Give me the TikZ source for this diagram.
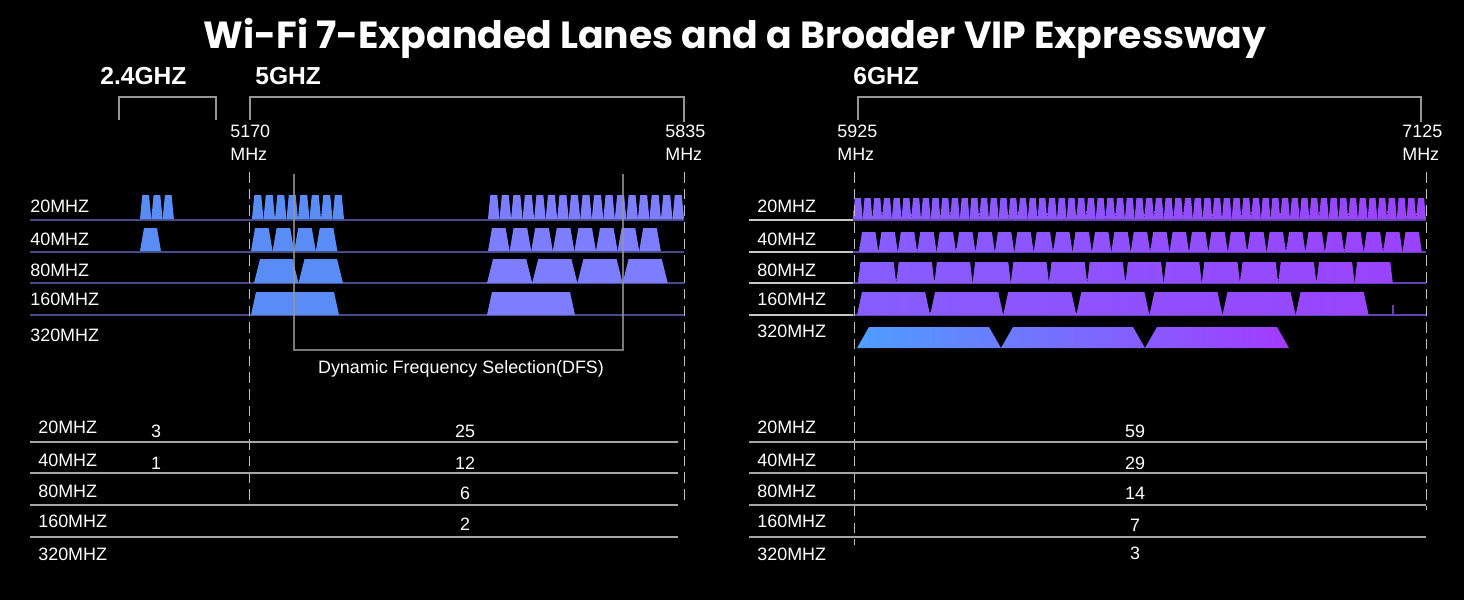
\documentclass[tikz,border=0pt]{standalone}
\usepackage{fontspec}
\setmainfont{Liberation Sans}
\newfontfamily\titlefont{Poppins}
\usepackage{tikz}
\usetikzlibrary{positioning,calc}

\definecolor{bluech}{RGB}{90,140,245}
\definecolor{perich}{RGB}{125,125,255}
\definecolor{violA}{RGB}{134,94,255}
\definecolor{violB}{RGB}{154,66,252}
\definecolor{skyA}{RGB}{78,158,255}
\definecolor{purpB}{RGB}{164,58,255}
\definecolor{lineblue}{RGB}{72,74,135}
\definecolor{linepurp}{RGB}{98,66,175}
\definecolor{brk}{RGB}{150,150,150}

\tikzset{
  rowlbl/.style={font=\fontsize{10.2}{12}\selectfont,text=white,anchor=west,inner sep=0pt},
  num/.style={font=\fontsize{10.2}{12}\selectfont,text=white,inner sep=0pt},
  band/.style={font=\fontsize{14}{16}\selectfont\bfseries,text=white,anchor=west,inner sep=0pt},
  freq/.style={font=\fontsize{10.2}{12.6}\selectfont,text=white,align=left,inner sep=0pt,anchor=north west},
  bracket/.style={draw=brk,line width=0.7pt},
  edge/.style={draw=white!75!black,dash pattern=on 6pt off 3.5pt,line width=0.5pt},
  rowline/.style={line width=0.7pt},
  tabline/.style={draw=gray!70,line width=0.9pt},
}

% one row of channels: x0, count, width, top, bottom, inset, colour
\newcommand{\chanrow}[7]{%
  \foreach \k in {1,...,#2} {
    \pgfmathsetmacro{\xa}{#1+(\k-1)*#3}
    \pgfmathsetmacro{\xb}{\xa+#3}
    \fill[#7] (\xa,#5) -- (\xa+#6,#4) -- (\xb-#6,#4) -- (\xb,#5) -- cycle;
  }}
% same, shaded from #7 to #8 up to x=#9
\newcommand{\chanshade}[9]{%
  \foreach \k in {1,...,#2} {
    \pgfmathsetmacro{\xa}{#1+(\k-1)*#3}
    \pgfmathsetmacro{\xb}{\xa+#3}
    \pgfmathtruncatemacro{\pa}{max(0,100-100*((\xa-#1)/(#9-#1)))}
    \pgfmathtruncatemacro{\pb}{max(0,100-100*((\xb-#1)/(#9-#1)))}
    \shade[left color=#7!\pa!#8,right color=#7!\pb!#8]
      (\xa,#5) -- (\xa+#6,#4) -- (\xb-#6,#4) -- (\xb,#5) -- cycle;
  }}

\begin{document}
\begin{tikzpicture}[x=0.02cm,y=-0.02cm]
  \fill[black] (0,0) rectangle (1464,600);

  % title
  \node[text=white,font=\titlefont\fontsize{21.5}{24}\selectfont\bfseries] (title) at (735,38)
    {Wi-Fi 7-Expanded Lanes and a Broader VIP Expressway};

  % bands
  \node[band] (b24) at (100,76) {2.4GHZ};
  \node[band] (b5) at (255,76) {5GHZ};
  \node[band] (b6) at (853,76) {6GHZ};
  \draw[bracket] (119,120) -- (119,97) -- (216,97) -- (216,120);
  \draw[bracket] (250,120) -- (250,97) -- (684,97) -- (684,122);
  \draw[bracket] (858,120) -- (858,97) -- (1421,97) -- (1421,122);

  \node[freq] (f1) at (230,125) {5170\\MHz};
  \node[freq] (f2) at (665,125) {5835\\MHz};
  \node[freq] (f3) at (837,125) {5925\\MHz};
  \node[freq] (f4) at (1402,125) {7125\\MHz};

  % row labels
  \foreach \t/\y [count=\i] in {20MHZ/206,40MHZ/239,80MHZ/270,160MHZ/299,320MHZ/335} {
    \node[rowlbl] (la\i) at (30,\y) {\t};
  }
  \foreach \t/\y [count=\i] in {20MHZ/206,40MHZ/239,80MHZ/270,160MHZ/299,320MHZ/331} {
    \node[rowlbl] (lb\i) at (757,\y) {\t};
  }
  \foreach \y in {220,252,283,315} {
    \draw[rowline,lineblue] (30,\y) -- (684,\y);
    \draw[rowline,gray!45] (749,\y) -- (853,\y);
    \draw[rowline,linepurp] (853,\y) -- (1426,\y);
  }
  \draw[rowline,linepurp] (1393,305) -- (1393,315);

  % 2.4GHz
  \chanrow{140}{3}{11.3}{195}{219}{2.3}{bluech}
  \chanrow{140}{1}{21}{228}{251}{4}{bluech}
  % 5GHz
  \chanrow{252}{8}{11.5}{195}{219}{2.3}{bluech}
  \chanrow{251}{4}{21.6}{228}{251}{4}{bluech}
  \chanrow{254}{2}{44.5}{259}{283}{6}{bluech}
  \chanrow{251}{1}{88}{292}{315}{5}{bluech}
  \chanrow{488}{17}{11.53}{195}{219}{2.3}{perich}
  \chanrow{488}{8}{21.6}{228}{251}{4}{perich}
  \chanrow{487}{4}{45.2}{259}{283}{6}{perich}
  \chanrow{487}{1}{88}{292}{315}{5}{perich}
  % 6GHz
  \chanshade{853}{59}{9.71}{198}{219}{1.8}{violA}{violB}{1426}
  \chanshade{859}{29}{19.41}{232}{252}{3}{violA}{violB}{1426}
  \chanshade{858}{14}{38.2}{262}{283}{2.5}{violA}{violB}{1426}
  \chanshade{857}{7}{73.1}{292}{315}{5}{violA}{violB}{1426}
  \chanshade{857}{3}{144}{327}{348}{12}{skyA}{purpB}{1289}

  % DFS
  \draw[bracket,draw opacity=0.8] (294,174) -- (294,350) -- (623,350) -- (623,174);
  \node[num] (dfs) at (461,369) {Dynamic Frequency Selection(DFS)};

  % band edges
  \draw[edge] (249,172) -- (249,500);
  \draw[edge] (684,172) -- (684,500);
  \draw[edge] (854,172) -- (854,545);
  \draw[edge] (1426,172) -- (1426,510);

  % channel counts
  \foreach \y in {442,473,505,537} {
    \draw[tabline] (30,\y) -- (678,\y);
    \draw[tabline] (749,\y) -- (1426,\y);
  }
  \foreach \t/\y [count=\i] in {20MHZ/427,40MHZ/460,80MHZ/491,160MHZ/521,320MHZ/554} {
    \node[rowlbl] (ta\i) at (38,\y) {\t};
    \node[rowlbl] (tb\i) at (757,\y) {\t};
  }
  \node[num] (n24a) at (156,431) {3};
  \node[num] (n24b) at (156,463) {1};
  \foreach \t/\y [count=\i] in {25/431,12/463,6/493,2/524} {
    \node[num] (n5\i) at (465,\y) {\t};
  }
  \foreach \t/\y [count=\i] in {59/431,29/463,14/493,7/525,3/553} {
    \node[num] (n6\i) at (1135,\y) {\t};
  }
\end{tikzpicture}
\end{document}
